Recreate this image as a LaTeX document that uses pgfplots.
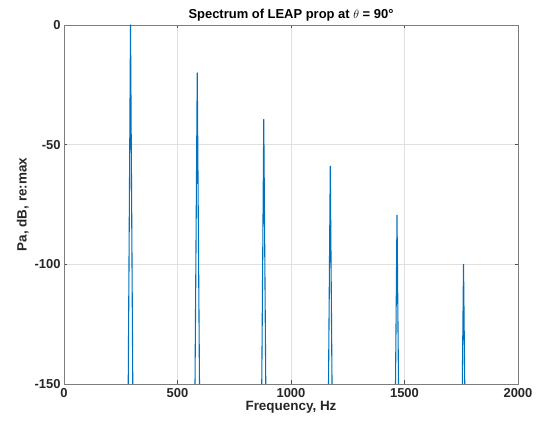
\documentclass[border=0pt]{standalone}
\usepackage{pgfplots}
\pgfplotsset{compat=1.18}
\usepackage{fontspec}
\setmainfont{Liberation Sans}
\definecolor{mblue}{rgb}{0,0.447,0.741}
\definecolor{axgray}{rgb}{0.15,0.15,0.15}
\begin{document}
\begin{tikzpicture}
\begin{axis}[
  at={(0,0)}, anchor=south west,
  scale only axis, width=454bp, height=359bp,
  xmin=0, xmax=2000, ymin=-150, ymax=0,
  xtick={0,500,1000,1500,2000},
  ytick={-150,-100,-50,0},
  grid=major,
  major grid style={draw=black!12, line width=0.5pt},
  axis line style={draw=axgray!60, line width=0.7pt},
  tick style={draw=axgray!80, line width=0.5pt},
  major tick length=3.5bp,
  tick align=inside,
  ticklabel style={font=\fontsize{13}{15}\selectfont\bfseries, text=axgray},
  xticklabel style={yshift=-1bp},
  /pgf/number format/assume math mode=true,
  /pgf/number format/1000 sep={},
  xlabel={Frequency, Hz},
  ylabel={Pa, dB, re:max},
  label style={font=\fontsize{13.5}{15}\selectfont\bfseries, text=axgray},
  xlabel style={yshift=3bp},
  ylabel style={yshift=-1bp},
  title={Spectrum of LEAP prop at $\theta$ = 90°},
  title style={font=\fontsize{13}{15}\selectfont\bfseries, yshift=-6bp},
  clip=true,
]
\addplot[mblue, line width=1.1pt, line join=round] coordinates {
 (0,-165) (282,-165) (293,0) (304,-165)
 (576,-165) (587,-20) (598,-165)
 (870,-165) (880,-39.5) (890,-165)
 (1164,-165) (1173,-59) (1182,-165)
 (1459,-165) (1467,-79.5) (1475,-165)
 (1753,-165) (1760,-100) (1767,-165) (2000,-165)
};
\end{axis}
\pgfresetboundingbox
\path (-64bp,-45bp) rectangle (479bp,384bp);
\end{tikzpicture}
\end{document}
